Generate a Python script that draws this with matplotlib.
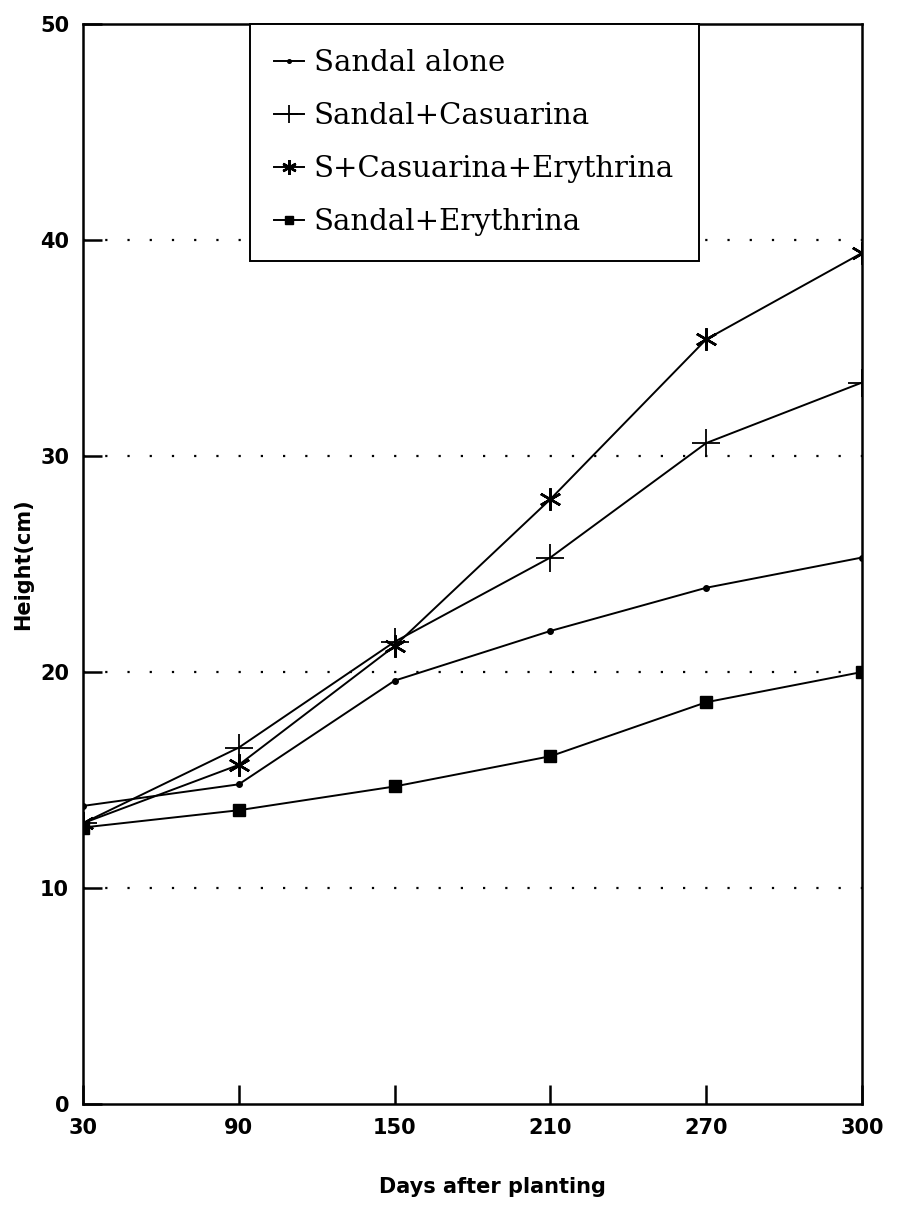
import matplotlib.pyplot as plt

# ── data ─────────────────────────────────────────────────────────────────────
days = ["30", "90", "150", "210", "270", "300"]
sandal_alone = [13.8, 14.8, 19.6, 21.9, 23.9, 25.3]
sandal_casuarina = [13.0, 16.5, 21.4, 25.3, 30.6, 33.4]
s_casuarina_erythrina = [13.0, 15.7, 21.2, 28.0, 35.4, 39.4]
sandal_erythrina = [12.8, 13.6, 14.7, 16.1, 18.6, 20.0]
series_labels = ["Sandal alone", "Sandal+Casuarina",
                 "S+Casuarina+Erythrina", "Sandal+Erythrina"]
y_ticks = [0, 10, 20, 30, 40, 50]

fig = plt.figure(figsize=(8.98, 12.08), dpi=100)
ax = fig.add_axes([0.0924, 0.0861, 0.8675, 0.894])

x = list(range(len(days)))
ax.plot(x, sandal_alone, color="black", lw=1.4, marker="o", ms=4,
        label=series_labels[0])
ax.plot(x, sandal_casuarina, color="black", lw=1.4, marker="+", ms=20,
        mew=1.3, label=series_labels[1])
ax.plot(x, s_casuarina_erythrina, color="black", lw=1.4, marker=(6, 2, 0),
        ms=16, mew=1.8, label=series_labels[2])
ax.plot(x, sandal_erythrina, color="black", lw=1.4, marker="s", ms=9,
        label=series_labels[3])

# dotted reference lines
for yv in y_ticks[1:-1]:
    ax.axhline(yv, color="black", lw=1.6, ls=(0, (1, 9)), zorder=0)

ax.set_xlim(0, len(days) - 1)
ax.set_ylim(0, 50)
ax.set_xticks(x)
ax.set_xticklabels(days)
ax.set_yticks(y_ticks)

for sp in ax.spines.values():
    sp.set_linewidth(1.8)
ax.tick_params(direction="in", length=14, width=1.8, labelsize=15, pad=10)
for lbl in ax.get_xticklabels() + ax.get_yticklabels():
    lbl.set_fontweight("bold")

ax.set_xlabel("Days after planting", fontsize=15, fontweight="bold")
ax.xaxis.set_label_coords(0.525, -0.068)
ax.set_ylabel("Height(cm)", fontsize=15, fontweight="bold")
ax.yaxis.set_label_coords(-0.064, 0.5)

leg = ax.legend(loc="upper left", bbox_to_anchor=(0.214, 1.0),
                borderaxespad=0, fancybox=False, framealpha=1,
                edgecolor="black", prop={"family": "DejaVu Serif", "size": 21},
                handlelength=1.0, handletextpad=0.35, labelspacing=0.86,
                borderpad=0.85, markerscale=0.65)
leg.get_frame().set_linewidth(1.4)

fig.savefig("out.png", dpi=100, facecolor="white")
